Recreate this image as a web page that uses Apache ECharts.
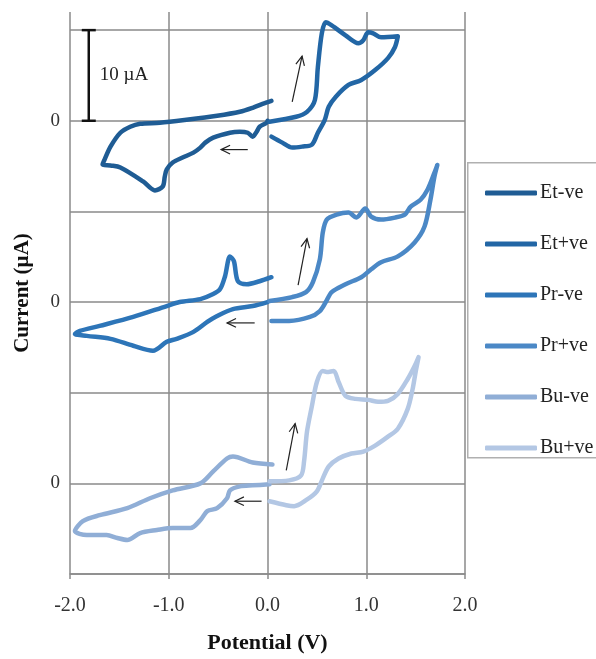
<!DOCTYPE html>
<html>
<head>
<meta charset="utf-8">
<script src="https://cdn.jsdelivr.net/npm/echarts@6/dist/echarts.min.js"></script>
<style>
html,body{margin:0;padding:0;background:#fff;}
#chart{width:596px;height:659px;}
</style>
</head>
<body>
<div id="chart"></div>
<script>
// ---- data (potential in V, current in µA) ----
var seriesNames = ['Et-ve', 'Et+ve', 'Pr-ve', 'Pr+ve', 'Bu-ve', 'Bu+ve'];
var xTicks = ['-2.0', '-1.0', '0.0', '1.0', '2.0'];
// vertical offset of each compound's zero line (µA units of the stacked axis)
var panelOffsets = { Et: 50, Pr: 30, Bu: 10 };

var etNegV = [0.00,-0.01,-0.08,-0.11,-0.15,-0.20,-0.28,-0.38,-0.55,-0.63,-0.68,-0.75,-0.86,-0.96,-1.02,-1.04,-1.06,-1.14,-1.26,-1.49,-1.59,-1.67,-1.65,-1.59,-1.49,-1.39,-1.29,-1.09,-0.82,-0.51,-0.28,-0.15,-0.05,0.04];
var etNegI = [0.00,-0.22,-0.66,-1.21,-1.75,-1.32,-1.21,-1.32,-1.86,-2.41,-2.96,-3.51,-4.06,-4.61,-5.37,-6.14,-7.24,-7.68,-6.69,-5.15,-4.93,-4.82,-4.28,-2.85,-1.32,-0.66,-0.33,-0.22,0.11,0.55,0.99,1.43,1.86,2.19];

var etPosV = [0.04,0.15,0.25,0.35,0.45,0.51,0.58,0.62,0.69,0.82,0.95,1.09,1.22,1.29,1.32,1.15,1.07,1.02,0.97,0.92,0.79,0.65,0.59,0.55,0.51,0.48,0.40,0.29,0.02];
var etPosI = [-1.75,-2.41,-2.96,-2.85,-2.63,-1.32,0.11,1.54,2.63,3.95,4.50,5.59,6.91,8.11,9.32,9.21,9.65,9.76,8.88,8.55,9.43,10.53,10.86,9.65,5.92,2.30,0.99,0.44,-0.11];

var prNegV = [0.00,-0.15,-0.35,-0.51,-0.61,-0.75,-0.92,-1.02,-1.16,-1.36,-1.59,-1.83,-1.95,-1.90,-1.70,-1.36,-1.02,-0.89,-0.68,-0.55,-0.48,-0.43,-0.38,-0.34,-0.30,-0.21,-0.08,0.04];
var prNegI = [0.00,-0.44,-0.77,-1.54,-2.19,-3.29,-4.06,-4.39,-5.37,-4.82,-4.06,-3.73,-3.51,-3.18,-2.63,-1.64,-0.44,0.00,0.33,0.88,1.43,2.85,5.04,4.50,2.30,1.97,2.30,2.74];

var prPosV = [0.04,0.22,0.43,0.53,0.59,0.65,0.79,0.95,1.05,1.15,1.32,1.49,1.59,1.65,1.69,1.72,1.69,1.62,1.55,1.45,1.39,1.29,1.15,1.05,0.99,0.90,0.82,0.70,0.60,0.56,0.53,0.46,0.39,0.25,0.02];
var prPosI = [-2.08,-2.08,-1.64,-0.99,0.00,1.10,1.97,2.74,3.62,4.39,5.04,6.58,8.33,11.29,13.82,15.13,14.25,12.39,11.29,10.53,9.65,9.32,9.10,9.43,10.31,9.32,9.87,9.65,9.10,7.68,4.71,2.19,1.10,0.55,0.11];

var buNegV = [0.02,-0.15,-0.28,-0.38,-0.41,-0.51,-0.61,-0.68,-0.78,-0.96,-1.12,-1.29,-1.42,-1.52,-1.63,-1.83,-1.95,-1.87,-1.70,-1.42,-1.19,-0.96,-0.68,-0.55,-0.41,-0.35,-0.15,0.05];
var buNegI = [-0.11,-0.22,-0.33,-0.77,-1.64,-2.74,-3.07,-4.06,-4.93,-4.93,-5.15,-5.48,-6.25,-6.03,-5.70,-5.70,-5.26,-4.17,-3.51,-2.74,-1.64,-0.77,0.00,1.32,2.74,2.96,2.30,2.08];

var buPosV = [0.02,0.19,0.27,0.39,0.50,0.56,0.62,0.72,0.85,0.97,1.09,1.22,1.32,1.42,1.47,1.50,1.53,1.49,1.42,1.32,1.22,1.12,1.02,0.89,0.79,0.72,0.67,0.60,0.56,0.50,0.45,0.40,0.37,0.34,0.22,0.02];
var buPosI = [-1.97,-2.41,-2.52,-1.86,-0.88,0.55,1.86,2.74,3.29,3.51,4.17,5.15,6.03,8.22,10.42,12.28,13.93,12.94,11.51,9.87,9.10,8.99,9.21,9.32,9.65,11.18,12.39,12.28,12.39,11.18,8.55,5.70,2.41,0.88,0.33,0.22];

// scan-direction arrows: [panel, V start, I start, V end, I end]
var arrowPanels = ['Et', 'Et', 'Pr', 'Pr', 'Bu', 'Bu'];
var arrowV0 = [0.25, -0.20, 0.31, -0.13, 0.19, -0.06];
var arrowI0 = [2.08, -3.18, 1.86, -2.30, 1.43, -1.97];
var arrowV1 = [0.35, -0.47, 0.40, -0.41, 0.28, -0.33];
var arrowI1 = [7.13, -3.18, 7.00, -2.30, 6.58, -1.97];

// 10 µA scale bar drawn in the Et panel
var scaleBarV = -1.81;
var scaleBarI = [0, 10];
var scaleBarLabel = '10 µA';

var colors = ['#1f5c94', '#2266a5', '#2d75b8', '#4b88c6', '#90aed6', '#b3c7e4'];

// ---- build ----
function pairs(v, i, off) {
  return v.map(function (x, k) { return [x, +(i[k] + off).toFixed(3)]; });
}
var curveData = [
  pairs(etNegV, etNegI, panelOffsets.Et),
  pairs(etPosV, etPosI, panelOffsets.Et),
  pairs(prNegV, prNegI, panelOffsets.Pr),
  pairs(prPosV, prPosI, panelOffsets.Pr),
  pairs(buNegV, buNegI, panelOffsets.Bu),
  pairs(buPosV, buPosI, panelOffsets.Bu)
];
var serif = '"Liberation Serif", "DejaVu Serif", serif';

var series = seriesNames.map(function (n, k) {
  return {
    name: n, type: 'line', data: curveData[k], smooth: 0.3,
    showSymbol: false, symbol: 'none', color: colors[k],
    lineStyle: { width: 4.5, color: colors[k], cap: 'round', join: 'round' },
    z: 3, animation: false
  };
});

var arrowData = arrowPanels.map(function (p, k) {
  return [arrowV0[k], arrowI0[k] + panelOffsets[p], arrowV1[k], arrowI1[k] + panelOffsets[p]];
});
series.push({
  type: 'custom', name: 'arrows', data: arrowData, silent: true, z: 4,
  encode: { x: [0, 2], y: [1, 3] }, animation: false,
  renderItem: function (params, api) {
    var a = api.coord([api.value(0), api.value(1)]);
    var b = api.coord([api.value(2), api.value(3)]);
    var ang = Math.atan2(b[1] - a[1], b[0] - a[0]);
    var L = 10, h = 0.45;
    var w1 = [b[0] - L * Math.cos(ang - h), b[1] - L * Math.sin(ang - h)];
    var w2 = [b[0] - L * Math.cos(ang + h), b[1] - L * Math.sin(ang + h)];
    var st = { stroke: '#222', lineWidth: 1.2, fill: null };
    return { type: 'group', children: [
      { type: 'line', shape: { x1: a[0], y1: a[1], x2: b[0], y2: b[1] }, style: st },
      { type: 'polyline', shape: { points: [w1, b, w2] }, style: st }
    ] };
  }
});

series.push({
  type: 'custom', name: 'scalebar', silent: true, z: 4, animation: false,
  data: [[scaleBarV, scaleBarI[0] + panelOffsets.Et, scaleBarI[1] + panelOffsets.Et]],
  encode: { x: 0, y: [1, 2] },
  renderItem: function (params, api) {
    var a = api.coord([api.value(0), api.value(1)]);
    var b = api.coord([api.value(0), api.value(2)]);
    var st = { stroke: '#111', lineWidth: 2.5 };
    return { type: 'group', children: [
      { type: 'line', shape: { x1: a[0], y1: a[1], x2: b[0], y2: b[1] }, style: st },
      { type: 'line', shape: { x1: a[0] - 7, y1: a[1], x2: a[0] + 7, y2: a[1] }, style: st },
      { type: 'line', shape: { x1: b[0] - 7, y1: b[1], x2: b[0] + 7, y2: b[1] }, style: st },
      { type: 'text', x: a[0] + 11, y: (a[1] + b[1]) / 2,
        style: { text: scaleBarLabel, fill: '#222', font: '19px ' + serif, verticalAlign: 'middle', align: 'left' } }
    ] };
  }
});

var gridColor = '#8a8a8a';
var option = {
  backgroundColor: '#fff',
  animation: false,
  grid: { left: 70, right: 131, top: 12, bottom: 82, containLabel: false },
  xAxis: {
    type: 'value', min: -2, max: 2, interval: 1,
    name: 'Potential (V)', nameLocation: 'middle', nameGap: 58,
    nameTextStyle: { fontFamily: serif, fontWeight: 'bold', fontSize: 22, color: '#111' },
    axisLine: { show: true, lineStyle: { color: gridColor, width: 1.5 } },
    axisTick: { show: true, length: 5, inside: false, lineStyle: { color: gridColor, width: 1.5 } },
    axisLabel: { margin: 22, fontFamily: serif, fontSize: 20, color: '#333',
      formatter: function (v) { var k = Math.round(v + 2); return xTicks[k] !== undefined ? xTicks[k] : ''; } },
    splitLine: { show: true, lineStyle: { color: gridColor, width: 1.5 } }
  },
  yAxis: {
    type: 'value', min: 0, max: 62, interval: 10,
    name: 'Current (µA)', nameLocation: 'middle', nameGap: 37, nameRotate: 90,
    nameTextStyle: { fontFamily: serif, fontWeight: 'bold', fontSize: 21, color: '#111' },
    axisLine: { show: false },
    axisTick: { show: false },
    axisLabel: { margin: 10, fontFamily: serif, fontSize: 19, color: '#333',
      formatter: function (v) { return (v === panelOffsets.Et || v === panelOffsets.Pr || v === panelOffsets.Bu) ? '0' : ''; } },
    splitLine: { show: true, showMaxLine: false, lineStyle: { color: gridColor, width: 1.5 } }
  },
  legend: {
    data: seriesNames, orient: 'vertical', left: 480, top: 178,
    itemWidth: 52, itemHeight: 5, itemGap: 31, icon: 'roundRect',
    textStyle: { fontFamily: serif, fontSize: 20, color: '#222', padding: [0, 0, 0, -2] },
    selectedMode: false
  },
  graphic: [{
    type: 'rect', left: 467, top: 162, z: 0,
    shape: { width: 140, height: 295 },
    style: { fill: '#fff', stroke: '#b0b0b0', lineWidth: 1.5 }
  }],
  series: series
};
var chart = echarts.init(document.getElementById('chart'), null, { renderer: 'canvas' });
chart.setOption(option);
</script>
</body>
</html>
